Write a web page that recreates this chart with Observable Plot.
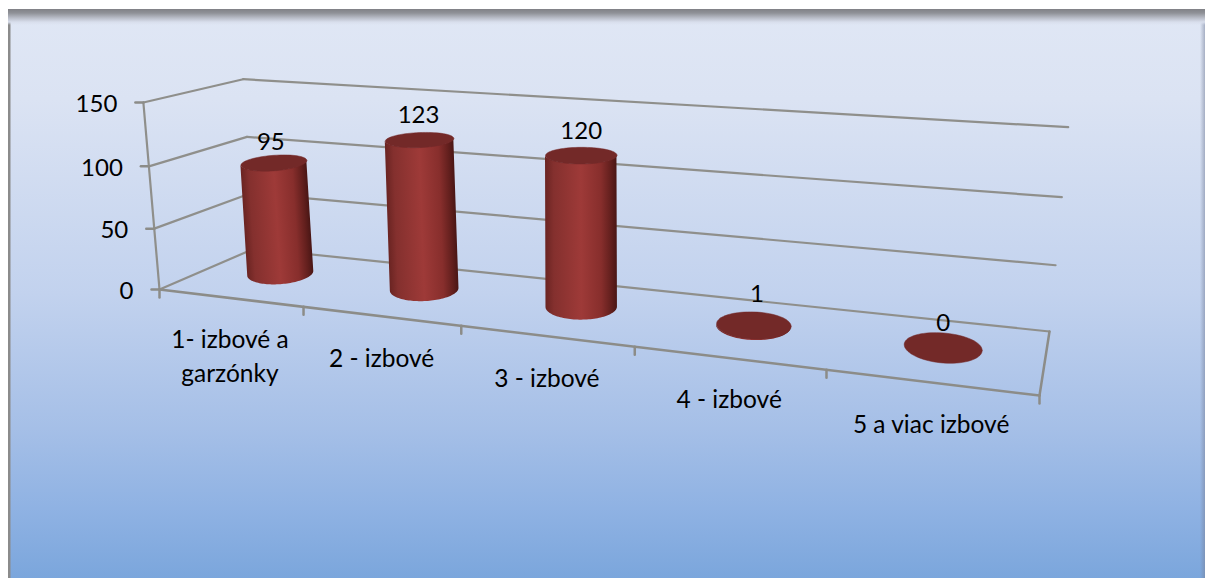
<!DOCTYPE html>
<html><head><meta charset="utf-8">
<script src="https://cdn.jsdelivr.net/npm/d3@7"></script>
<script src="https://cdn.jsdelivr.net/npm/@observablehq/plot@0.6"></script>
<style>
html,body{margin:0;padding:0;background:#fff;overflow:hidden;width:1205px;height:578px}
#frame{position:absolute;left:0;top:0;width:1205px;height:578px}
#bg{position:absolute;left:8px;top:9px;width:1197px;height:569px;background:
 linear-gradient(to bottom,#808186 0,#8f9197 4px,#b9bdc8 9px,#d8deec 13px,rgba(223,230,244,0) 16px) top/100% 16px no-repeat,
 linear-gradient(to right,#8b8b8b 0,#8b8b8b 2px,rgba(139,139,139,0) 3px) left/4px 100% no-repeat,
 linear-gradient(to left,rgba(120,130,155,.55) 0,rgba(120,130,155,0) 5px) right/6px 100% no-repeat,
 linear-gradient(to bottom,#e0e7f5 0,#dbe3f3 90px,#c2d2ee 285px,#a5bfe7 420px,#8fb2e3 500px,#7ba6dc 569px);}
svg{position:absolute;left:0;top:0;display:block}
</style></head><body>
<div id="frame"><div id="bg"></div></div>
<script>
const categories = ["1- izbové a\ngarzónky", "2 - izbové", "3 - izbové", "4 - izbové", "5 a viac izbové"];
const counts = [95, 123, 120, 1, 0];
const valueTicks = [0, 50, 100, 150];

// perspective camera of the 3D chart box (floor corners + vertical vanishing point)
const F = [[159,289],[1039,395],[1049,331],[254,248]];
const VP = [597, 5370], qv = -0.0355 / 150;
const dx1=F[1][0]-F[2][0], dx2=F[3][0]-F[2][0], sx=F[0][0]-F[1][0]+F[2][0]-F[3][0];
const dy1=F[1][1]-F[2][1], dy2=F[3][1]-F[2][1], sy=F[0][1]-F[1][1]+F[2][1]-F[3][1];
const den=dx1*dy2-dx2*dy1, g=(sx*dy2-dx2*sy)/den, h=(dx1*sy-sx*dy1)/den;
const A=F[1][0]-F[0][0]+g*F[1][0], B=F[3][0]-F[0][0]+h*F[3][0], C=F[0][0];
const D=F[1][1]-F[0][1]+g*F[1][1], E=F[3][1]-F[0][1]+h*F[3][1], K=F[0][1];
function project(u, d, v) {
  const s=u/categories.length, w=g*s+h*d+1+v*qv;
  return [(A*s+B*d+C+v*qv*VP[0])/w, (D*s+E*d+K+v*qv*VP[1]*(1-0.02*s))/w];
}
const seg=(id,a,b)=>[{id,x:a[0],y:a[1]},{id,x:b[0],y:b[1]}];
const n=categories.length, maxValue=valueTicks[valueTicks.length-1];

// box lines
let lines=[];
for (const v of valueTicks) {
  lines.push(...seg("b"+v,project(0,1,v),project(n,1,v)));
  lines.push(...seg("s"+v,project(0,0,v),project(0,1,v)));
}
lines.push(...seg("left",project(0,0,0),project(0,0,maxValue)));
let axisLines=[...seg("front",project(0,0,0),project(n,0,0)),...seg("right",project(n,0,0),project(n,1,0))];
for (const v of valueTicks) { const p=project(0,0,v); axisLines.push(...seg("vt"+v,[p[0]-8,p[1]],p)); }
for (let i=0;i<=n;i++) { const p=project(i,0,0); axisLines.push(...seg("ct"+i,p,[p[0],p[1]+8])); }

// cylinders: screen-aligned ellipses at projected centres
const rD=0.25, dMid=0.54, uOff=0.5, heightFit=0.985;
const ringPoint=(i,v0,th)=>{
  const v=v0*heightFit, c=project(i+uOff,dMid,v);
  const rx=30.5+0.009*c[0], ex=c[0]+rx*Math.cos(th);
  const ey=project(i+uOff,dMid+rD*Math.sin(th),v)[1];
  return [ex, ey+(c[0]-600)*0.00022*(ex-c[0])];
};
let body=[], caps=[];
counts.forEach((v,i)=>{
  for(let k=0;k<=60;k++){
    const th=Math.PI*(1+k/60), a=ringPoint(i,v,th), b=ringPoint(i,0,th);
    body.push({id:i,x1:a[0],y1:a[1],x2:b[0],y2:b[1],c:`url(#cyl${i})`});
  }
  for(let k=0;k<=72;k++){const p=ringPoint(i,v,2*Math.PI*k/72);caps.push({id:i,x:p[0],y:p[1]});}
});
const stops=[[0,"#6a2422"],[.12,"#84302e"],[.5,"#9e3a38"],[.78,"#872e2c"],[.92,"#621f1d"],[1,"#491615"]];
function gradientDefs(){
  const svg=d3.create("svg:g"), defs=svg.append("defs");
  counts.forEach((v,i)=>{
    const t=project(i+uOff,dMid,v), b=project(i+uOff,dMid,0);
    const L=ringPoint(i,0,Math.PI), R=ringPoint(i,0,0);
    const ax=t[0]-b[0], ay=t[1]-b[1], len=Math.hypot(ax,ay)||1, W=R[0]-L[0];
    const px=-ay/len, py=ax/len, sgn=px>=0?1:-1;
    const gr=defs.append("linearGradient").attr("id",`cyl${i}`).attr("gradientUnits","userSpaceOnUse")
      .attr("x1",b[0]-sgn*px*W/2).attr("y1",b[1]-sgn*py*W/2)
      .attr("x2",b[0]+sgn*px*W/2).attr("y2",b[1]+sgn*py*W/2);
    stops.forEach(s=>gr.append("stop").attr("offset",s[0]).attr("stop-color",s[1]));
  });
  return svg.node();
}

// labels
const tickLabels=valueTicks.map(v=>{const p=project(0,0,v);return{x:p[0]-26,y:p[1]+2,t:String(v)};});
const catLabels=categories.map((t,i)=>{const p=project(i+.5,0,0);return{x:p[0]+(i?1:0),y:p[1],t};});
const nudge=[[-3,-21],[-1,-25],[0,-24],[3,-31],[0,-24]];
const valLabels=counts.map((v,i)=>{const p=project(i+uOff,dMid,v*heightFit);return{x:p[0]+nudge[i][0],y:p[1]+nudge[i][1],t:String(v)};});

const font="Lato";
const plot=Plot.plot({
  width:1205,height:578,margin:0,
  style:{background:"transparent",overflow:"visible"},
  x:{domain:[0,1205],range:[0,1205],axis:null},
  y:{domain:[0,578],range:[0,578],axis:null},
  color:{type:"identity"},
  marks:[
    gradientDefs,
    Plot.line(lines,{x:"x",y:"y",z:"id",stroke:"#8f8f8b",strokeWidth:2.2}),
    Plot.line(axisLines,{x:"x",y:"y",z:"id",stroke:"#8c8c88",strokeWidth:2.5}),
    Plot.area(body,{x1:"x1",y1:"y1",x2:"x2",y2:"y2",z:"id",fill:"c"}),
    Plot.line(caps,{x:"x",y:"y",z:"id",fill:"#732928",stroke:"#732928",strokeWidth:.5}),
    Plot.text(tickLabels,{x:"x",y:"y",text:"t",textAnchor:"end",fontFamily:font,fontSize:24,fill:"#000"}),
    Plot.text(catLabels,{x:"x",y:"y",text:"t",dy:27,lineAnchor:"top",lineHeight:1.35,fontFamily:font,fontSize:24.5,fill:"#000"}),
    Plot.text(valLabels,{x:"x",y:"y",text:"t",fontFamily:font,fontSize:24,fill:"#000"})
  ]
});
document.getElementById("frame").appendChild(plot);
</script>
</body></html>
